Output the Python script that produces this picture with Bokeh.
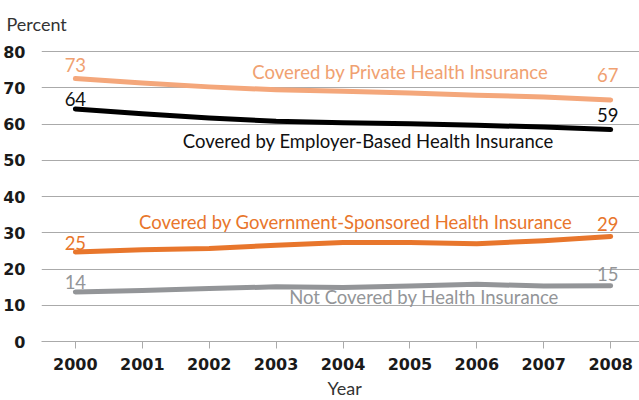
from bokeh.plotting import figure
from bokeh.models import ColumnDataSource, Range1d, FixedTicker, Title
from bokeh.core.properties import value
from bokeh.embed import file_html
from bokeh.resources import INLINE

years = [2000, 2001, 2002, 2003, 2004, 2005, 2006, 2007, 2008]
private = [72.6, 71.4, 70.3, 69.5, 69.1, 68.6, 68.0, 67.5, 66.7]
employer = [64.2, 62.9, 61.7, 60.8, 60.4, 60.1, 59.7, 59.2, 58.5]
government = [24.7, 25.3, 25.7, 26.6, 27.3, 27.3, 27.0, 27.8, 29.0]
uninsured = [13.7, 14.1, 14.6, 15.1, 14.9, 15.3, 15.8, 15.3, 15.4]
y_ticks = [0, 10, 20, 30, 40, 50, 60, 70, 80]

names = ["Covered by Private Health Insurance",
         "Covered by Employer-Based Health Insurance",
         "Covered by Government-Sponsored Health Insurance",
         "Not Covered by Health Insurance"]
series = [private, employer, government, uninsured]
line_colors = ["#F4A77B", "#000000", "#E8762C", "#939598"]
text_colors = ["#F0A171", "#111111", "#E8762C", "#939598"]

FONT = "Lato"
TICK_FONT = "DejaVu Sans"

p = figure(width=639, height=400, output_backend="svg", toolbar_location=None,
           x_range=Range1d(1999.494, 2008.431), y_range=Range1d(0, 82),
           min_border_left=38, min_border_right=0, min_border_top=43,
           min_border_bottom=59)
p.outline_line_color = None
p.background_fill_color = "white"

# title used as the "Percent" unit label
p.title.text = "Percent"
p.title.align = "left"
p.title.offset = -35
p.title.standoff = 20
p.title.text_font = FONT
p.title.text_font_size = "18px"
p.title.text_font_style = "normal"
p.title.text_color = "#333333"

# grid
p.xgrid.grid_line_color = None
p.ygrid.grid_line_color = "#AAAAAA"
p.ygrid.grid_line_width = 1
p.ygrid.ticker = FixedTicker(ticks=y_ticks)

# y axis
p.yaxis.ticker = FixedTicker(ticks=y_ticks)
p.yaxis.axis_line_color = None
p.yaxis.major_tick_line_color = None
p.yaxis.minor_tick_line_color = None
p.yaxis.major_label_standoff = 10
p.yaxis.major_label_text_font = TICK_FONT
p.yaxis.major_label_text_font_style = "bold"
p.yaxis.major_label_text_font_size = "16px"
p.yaxis.major_label_text_color = "#1A1A1A"

# x axis
p.xaxis.ticker = FixedTicker(ticks=years)
p.xaxis.axis_line_color = "#AAAAAA"
p.xaxis.major_tick_line_color = "#AAAAAA"
p.xaxis.major_tick_out = 7
p.xaxis.major_tick_in = 0
p.xaxis.minor_tick_line_color = None
p.xaxis.major_label_standoff = 9
p.xaxis.major_label_text_font = TICK_FONT
p.xaxis.major_label_text_font_style = "bold"
p.xaxis.major_label_text_font_size = "16px"
p.xaxis.major_label_text_color = "#1A1A1A"

p.add_layout(Title(text="Year", align="left", offset=286, standoff=4,
                   text_font=FONT, text_font_size="18px", text_font_style="normal",
                   text_color="#333333"), "below")

for s, c in zip(series, line_colors):
    p.line(years, s, line_color=c, line_width=5, line_cap="round", line_join="round")

# end value labels (pixel offsets; negative = upward)
val_offsets = [(-14, -25), (-10, -14.5), (-9, -12.5), (-10, -12)]
for s, c, (o0, o1) in zip(series, text_colors, val_offsets):
    src = ColumnDataSource(dict(x=[years[0], years[-1]], y=[s[0], s[-1]],
                                t=[str(int(s[0] + 0.5)), str(int(s[-1] + 0.5))],
                                yo=[o0, o1], xo=[0, -3]))
    p.text(x="x", y="y", text="t", source=src, x_offset="xo", y_offset="yo",
           text_color=c, text_font=value(FONT), text_font_size="18.5px",
           text_align="center", text_baseline="alphabetic")

# series name labels (left edge, baseline)
name_x = [2002.69, 2001.65, 2000.996, 2003.24]
name_y = [72.65, 53.66, 31.37, 10.73]
src = ColumnDataSource(dict(x=name_x, y=name_y, t=names, c=text_colors))
p.text(x="x", y="y", text="t", source=src, text_color="c", x_offset=-3, y_offset=-6,
       text_font=value(FONT), text_font_size="18.5px",
       text_align="left", text_baseline="alphabetic")

open("out.html", "w").write(file_html(p, INLINE))
